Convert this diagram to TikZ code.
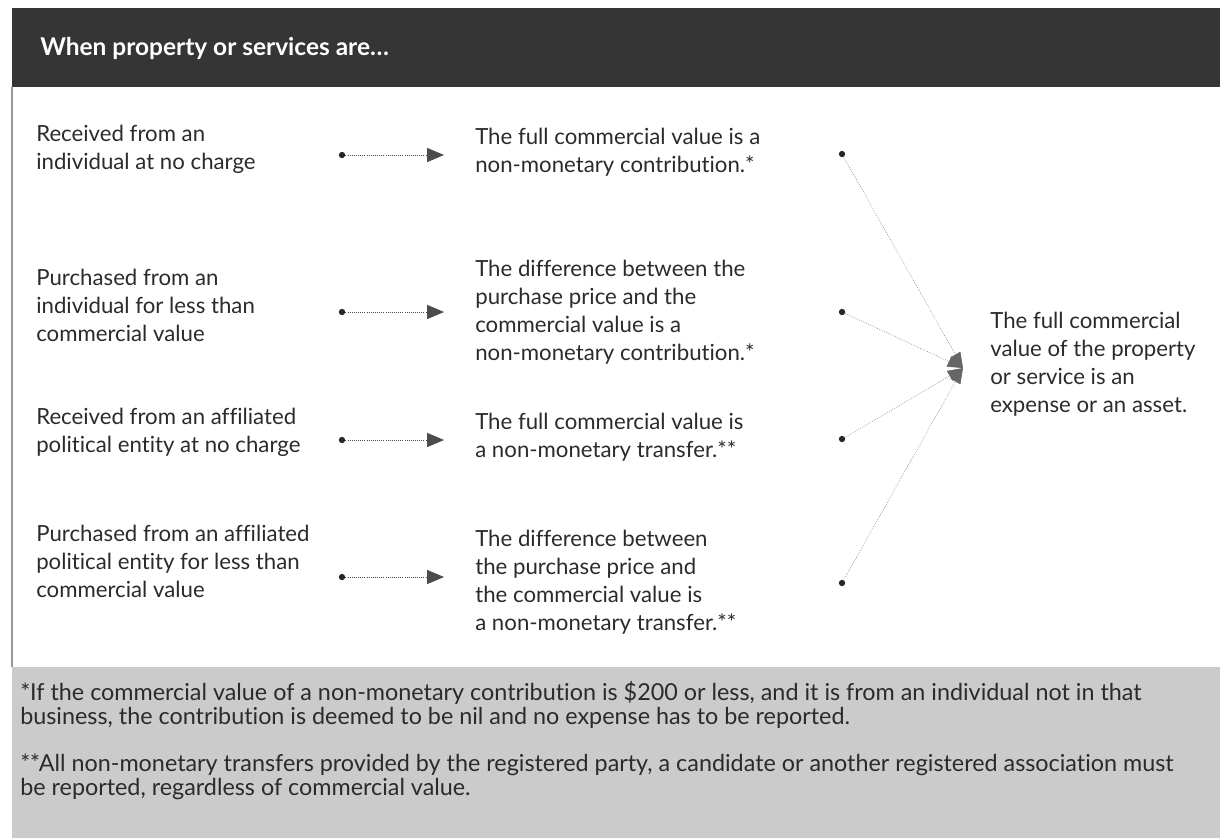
\documentclass[tikz,border=0pt]{standalone}
\usepackage{fontspec}
\setmainfont[Ligatures=NoCommon]{Lato}
\usetikzlibrary{arrows.meta}
\definecolor{headgray}{HTML}{353535}
\definecolor{footgray}{HTML}{CBCBCB}
\definecolor{ink}{HTML}{2B2B2B}

\begin{document}
\begin{tikzpicture}[x=0.025cm,y=-0.025cm,
    every node/.style={text=ink, font=\fontsize{15.8}{19.9}\selectfont},
    txt/.style={anchor=west, align=left, inner sep=0pt},
    dot/.style={circle, fill=black!85, inner sep=0pt, minimum size=4.5pt},
    flow/.style={densely dotted, black!70, line width=0.5pt, -{Triangle[length=12pt,width=10pt]}},
    merge/.style={densely dotted, black!60, line width=0.4pt, -{Triangle[length=11pt,width=8pt]}}]
    \useasboundingbox (0,0) rectangle (1220,838);

    % header and footer bands
    \fill[headgray] (12,8) rectangle (1220,87);
    \fill[footgray] (12,667) rectangle (1220,838);
    \draw[black!40, line width=1.5pt] (12,87) -- (12,667);
    \node[txt, text=white, font=\fontsize{17.4}{20}\bfseries] (head) at (40,48) {When property or services are\dots};

    % left column
    \node[txt] (a1) at (36,149) {Received from an\\individual at no charge};
    \node[txt] (a2) at (36,305) {Purchased from an\\individual for less than\\commercial value};
    \node[txt] (a3) at (36,432) {Received from an affiliated\\political entity at no charge};
    \node[txt] (a4) at (36,561) {Purchased from an affiliated\\political entity for less than\\commercial value};

    % middle column
    \node[txt] (b1) at (475,152) {The full commercial value is a\\non-monetary contribution.*};
    \node[txt] (b2) at (475,312) {The difference between the\\purchase price and the\\commercial value is a\\non-monetary contribution.*};
    \node[txt] (b3) at (475,437) {The full commercial value is\\a non-monetary transfer.**};
    \node[txt] (b4) at (475,582) {The difference between\\the purchase price and\\the commercial value is\\a non-monetary transfer.**};

    % right column
    \node[txt] (res) at (990,364) {The full commercial\\value of the property\\or service is an\\expense or an asset.};
    \coordinate (hub) at (963,368);

    % arrows
    \node[dot] (s1) at (342,155) {};
    \node[dot] (s2) at (342,312) {};
    \node[dot] (s3) at (342,440) {};
    \node[dot] (s4) at (342,577) {};
    \coordinate (e1) at (444,155);
    \coordinate (e2) at (444,312);
    \coordinate (e3) at (444,440);
    \coordinate (e4) at (444,577);
    \draw[flow] (s1) -- (e1);
    \draw[flow] (s2) -- (e2);
    \draw[flow] (s3) -- (e3);
    \draw[flow] (s4) -- (e4);

    \node[dot] (r1) at (842,154) {};
    \node[dot] (r2) at (842,312) {};
    \node[dot] (r3) at (842,439) {};
    \node[dot] (r4) at (842,583) {};
    \draw[merge] (r1) -- (hub);
    \draw[merge] (r2) -- (hub);
    \draw[merge] (r3) -- (hub);
    \draw[merge] (r4) -- (hub);

    % footnotes
    \node[txt, font=\fontsize{16.6}{17.5}\selectfont] (n1) at (20,705) {*If the commercial value of a non-monetary contribution is \$200 or less, and it is from an individual not in that\\business, the contribution is deemed to be nil and no expense has to be reported.};
    \node[txt, font=\fontsize{16.6}{17.5}\selectfont] (n2) at (20,777) {**All non-monetary transfers provided by the registered party, a candidate or another registered association must\\be reported, regardless of commercial value.};
  \end{tikzpicture}
\end{document}
